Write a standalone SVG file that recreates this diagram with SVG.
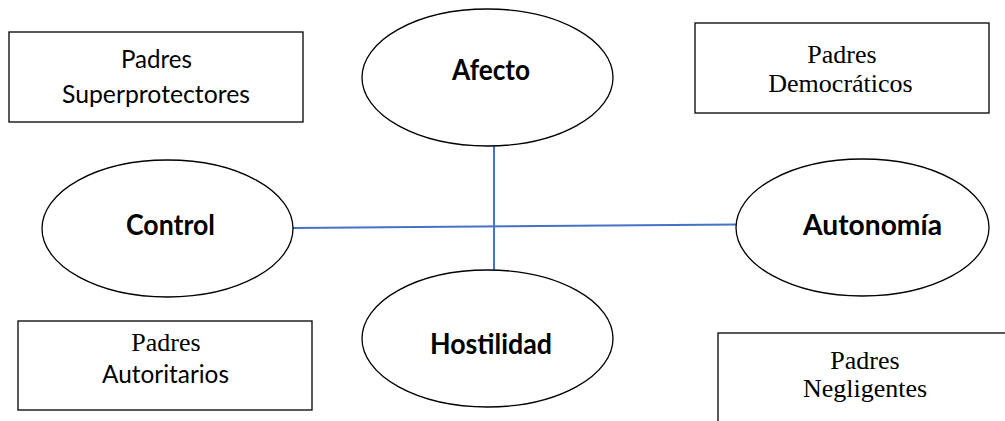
<svg xmlns="http://www.w3.org/2000/svg" width="1005" height="421" viewBox="0 0 1005 421">
<style>
.box{fill:#fff;stroke:#000;stroke-width:1.3}
.ell{fill:#fff;stroke:#000;stroke-width:1.3}
.sans{font-family:Lato,"Liberation Sans",sans-serif;font-size:25px;fill:#000;text-anchor:middle}
.serif{font-family:"Liberation Serif","Times New Roman",serif;font-size:26px;fill:#000;text-anchor:middle}
.bold{font-family:Lato,"Liberation Sans",sans-serif;font-size:28px;font-weight:bold;fill:#000;text-anchor:middle}
.conn{stroke:#4472C4;stroke-width:2;fill:none}
</style>
<rect width="1005" height="421" fill="#fff"/>
<g id="connectors">
<line class="conn" x1="293" y1="228" x2="738" y2="224.5"/>
<line class="conn" x1="494" y1="143" x2="494" y2="280"/>
</g>
<g id="superprotectores">
<rect class="box" x="9" y="32" width="294" height="90"/>
<text class="sans" x="156.5" y="68" textLength="71" lengthAdjust="spacingAndGlyphs">Padres</text>
<text class="sans" x="156" y="103" textLength="188" lengthAdjust="spacingAndGlyphs">Superprotectores</text>
</g>
<g id="democraticos">
<rect class="box" x="695" y="23" width="294" height="90"/>
<text class="serif" x="842" y="63">Padres</text>
<text class="serif" x="840.5" y="92">Democráticos</text>
</g>
<g id="autoritarios">
<rect class="box" x="18" y="321" width="294" height="89"/>
<text class="serif" x="166" y="351">Padres</text>
<text class="sans" x="165.5" y="383" textLength="127" lengthAdjust="spacingAndGlyphs">Autoritarios</text>
</g>
<g id="negligentes">
<rect class="box" x="718" y="333" width="294" height="100"/>
<text class="serif" x="865" y="369">Padres</text>
<text class="serif" x="865" y="397">Negligentes</text>
</g>
<g id="afecto">
<ellipse class="ell" cx="487.5" cy="77.5" rx="125.5" ry="68.5"/>
<text class="bold" x="491" y="80" textLength="78" lengthAdjust="spacingAndGlyphs">Afecto</text>
</g>
<g id="hostilidad">
<ellipse class="ell" cx="487.5" cy="338.5" rx="125.5" ry="68.5"/>
<text class="bold" x="491" y="354" textLength="122" lengthAdjust="spacingAndGlyphs">Hostilidad</text>
</g>
<g id="control">
<ellipse class="ell" cx="167.5" cy="228.5" rx="125.5" ry="68.5"/>
<text class="bold" x="170.5" y="235" textLength="89" lengthAdjust="spacingAndGlyphs">Control</text>
</g>
<g id="autonomia">
<ellipse class="ell" cx="862.5" cy="227.5" rx="126.5" ry="68.5"/>
<text class="bold" x="872.5" y="235" textLength="139" lengthAdjust="spacingAndGlyphs">Autonomía</text>
</g>
</svg>
